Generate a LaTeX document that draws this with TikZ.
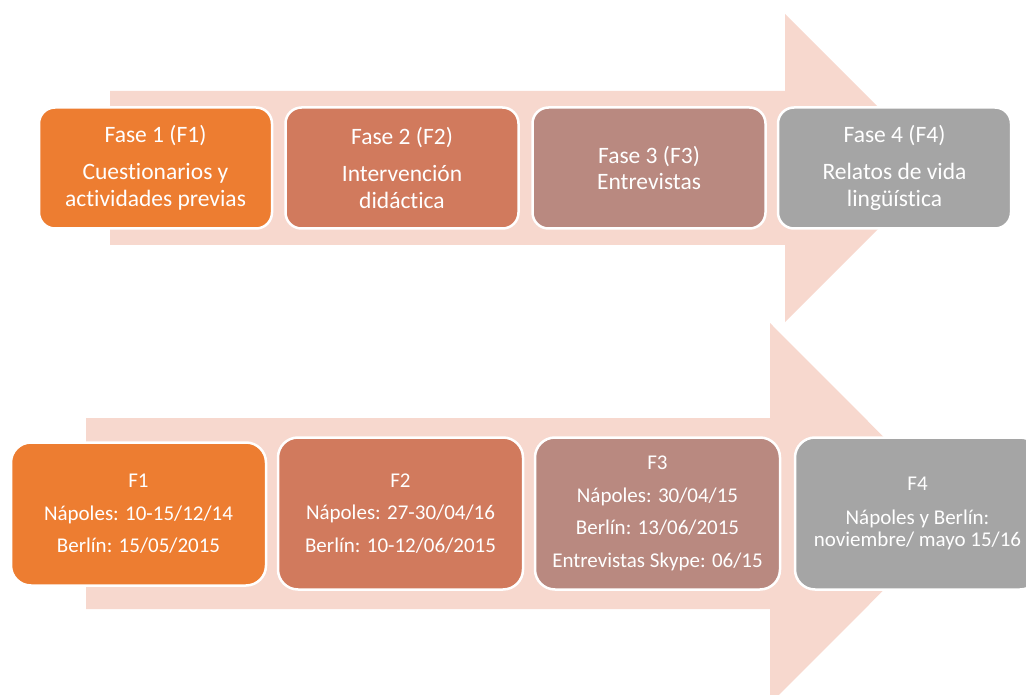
\documentclass[tikz,border=0pt]{standalone}
\usepackage{fontspec}
\setmainfont{Carlito}[Ligatures={NoCommon}]
\definecolor{arrowfill}{HTML}{F7D8CE}
\definecolor{phaseA}{HTML}{ED7D31}
\definecolor{phaseB}{HTML}{D17A5D}
\definecolor{phaseC}{HTML}{B98980}
\definecolor{phaseD}{HTML}{A5A5A5}
\tikzset{
  phase/.style={draw=white, line width=2.5pt, rounded corners=16pt,
    text=white, align=center, inner sep=0pt},
  toprow/.style={phase, minimum width=233pt, minimum height=121pt,
    font=\fontsize{23.5}{26.5}\selectfont},
  botrow/.style={phase, minimum width=245pt, minimum height=152pt,
    rounded corners=20pt, font=\fontsize{21}{22.5}\selectfont},
  bigarrow/.style={fill=arrowfill, draw=none}
}
\begin{document}
\begin{tikzpicture}[x=1pt, y=-1pt]
\useasboundingbox (0,0) rectangle (1026,695);
\begin{scope}
\clip (0,0) rectangle (1026,695);
% background arrows
\fill[bigarrow] (110,91) -- (785,91) -- (785,14) -- (939,168) -- (785,322)
  -- (785,245) -- (110,245) -- cycle;
\fill[bigarrow] (86,418) -- (770,418) -- (770,323) -- (960,513.5) -- (770,704)
  -- (770,609) -- (86,609) -- cycle;

% phases
\node[toprow, fill=phaseA] (f1) at (155.5,168)
  {Fase 1 (F1)\\[10.5pt]Cuestionarios y\\actividades previas};
\node[toprow, fill=phaseB] (f2) at (402,168)
  {Fase 2 (F2)\\[10.5pt]Intervención\\didáctica};
\node[toprow, fill=phaseC] (f3) at (649,168)
  {Fase 3 (F3)\\Entrevistas};
\node[toprow, fill=phaseD] (f4) at (894.5,168)
  {Fase 4 (F4)\\[10.5pt]Relatos de vida\\lingüística};

% dates
\node[botrow, fill=phaseA, minimum width=255pt, minimum height=143pt] (d1) at (138.5,514)
  {F1\\[10pt]Nápoles: 10-15/12/14\\[10pt]Berlín: 15/05/2015};
\node[botrow, fill=phaseB] (d2) at (400.5,513.5)
  {F2\\[10pt]Nápoles: 27-30/04/16\\[10pt]Berlín: 10-12/06/2015};
\node[botrow, fill=phaseC] (d3) at (657.5,513.5)
  {F3\\[10pt]Nápoles: 30/04/15\\[10pt]Berlín: 13/06/2015\\[10pt]Entrevistas Skype: 06/15};
\node[botrow, fill=phaseD] (d4) at (917.5,513.5)
  {F4\\[11pt]Nápoles y Berlín:\\noviembre/ mayo 15/16};
\end{scope}
\end{tikzpicture}
\end{document}
